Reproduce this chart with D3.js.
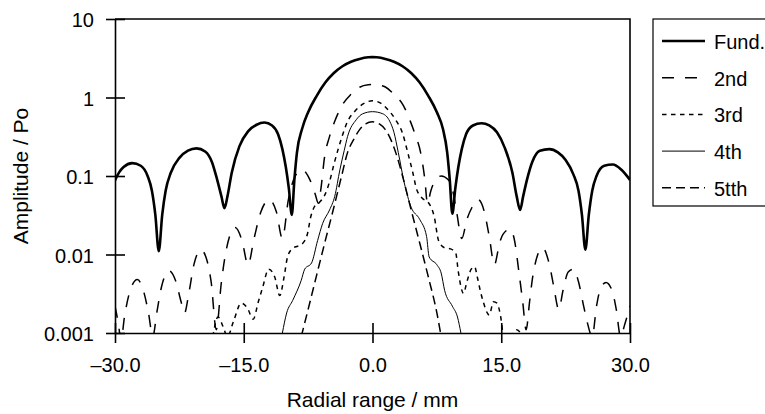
<!DOCTYPE html>
<html>
<head>
<meta charset="utf-8">
<script src="https://cdn.jsdelivr.net/npm/d3@7"></script>
<style>
	body { margin: 0; background: #fff; }
	text { font-family: "Liberation Sans", Arial, sans-serif; fill: #000; }
</style>
</head>
<body>
<svg id="chart" width="765" height="414"></svg>
<script>

// ---------- data (x in mm, amplitude / Po)
var seriesNames = ['Fund.', '2nd', '3rd', '4th', '5tth'];
var xTicks = [-30, -15, 0, 15, 30],
	xTickLabels = ['\u201330.0', '\u201315.0', '0.0', '15.0', '30.0'],
	yTicks = [0.001, 0.01, 0.1, 1, 10],
	yTickLabels = ['0.001', '0.01', '0.1', '1', '10'];

var fund = [
	[-30, 0.088], [-29.5, 0.112], [-29, 0.13], [-28, 0.146], [-27, 0.135], [-26.2, 0.1], [-25.7, 0.065],
	[-25.3, 0.032], [-24.9, 0.011], [-24.5, 0.032], [-24.1, 0.065], [-23.5, 0.11], [-22.5, 0.17],
	[-21.5, 0.21], [-20.5, 0.225], [-19.5, 0.205], [-18.7, 0.15], [-18.1, 0.09], [-17.6, 0.055],
	[-17.25, 0.039], [-16.9, 0.055], [-16.4, 0.11], [-15.5, 0.24], [-14.5, 0.37], [-13.5, 0.45],
	[-12.6, 0.48], [-11.7, 0.44], [-11.0, 0.34], [-10.5, 0.22], [-10.1, 0.13], [-9.75, 0.07],
	[-9.4, 0.032], [-9.1, 0.09], [-8.8, 0.2], [-8.2, 0.4], [-7.5, 0.65], [-6.5, 1.05], [-5.5, 1.55],
	[-4.5, 2.05], [-3.5, 2.5], [-2.5, 2.85], [-1.5, 3.1], [-0.5, 3.25], [0, 3.27], [0.5, 3.25],
	[1.5, 3.1], [2.5, 2.85], [3.5, 2.5], [4.5, 2.05], [5.5, 1.55], [6.5, 1.05], [7.5, 0.65],
	[8.2, 0.4], [8.7, 0.2], [9.0, 0.09], [9.3, 0.033], [9.65, 0.07], [10.0, 0.13], [10.4, 0.22],
	[10.9, 0.34], [11.7, 0.44], [12.7, 0.47], [13.6, 0.44], [14.5, 0.36], [15.4, 0.23], [16.3, 0.11],
	[16.8, 0.055], [17.2, 0.037], [17.55, 0.055], [18.0, 0.09], [18.6, 0.15], [19.5, 0.21],
	[20.6, 0.22], [21.6, 0.2], [22.5, 0.16], [23.4, 0.105], [24.0, 0.065], [24.4, 0.032],
	[24.8, 0.0115], [25.2, 0.032], [25.6, 0.065], [26.1, 0.1], [27.0, 0.135], [28.0, 0.14],
	[29.0, 0.12], [30, 0.089]
];

var second = [
	[-30, 0.0022], [-29.6, 0.0013], [-29.3, 0.0008], [-28.9, 0.0016], [-28.3, 0.0033], [-27.4, 0.0048],
	[-26.7, 0.0035], [-26.1, 0.0018], [-25.6, 0.0009], [-25.1, 0.0019], [-24.6, 0.0038], [-23.7, 0.0062],
	[-22.9, 0.0045], [-22.3, 0.0025], [-21.9, 0.0018], [-21.4, 0.0032], [-20.8, 0.0075], [-20.0, 0.0115],
	[-19.3, 0.0085], [-18.8, 0.0045], [-18.2, 0.0011], [-17.6, 0.0045], [-17.0, 0.012], [-16.0, 0.022],
	[-15.2, 0.015], [-14.5, 0.0074], [-13.8, 0.016], [-13.0, 0.035], [-12.0, 0.05], [-11.2, 0.035],
	[-10.5, 0.016], [-9.8, 0.05], [-9.0, 0.1], [-8.2, 0.12], [-7.3, 0.09], [-6.7, 0.06], [-6.3, 0.045],
	[-6.0, 0.07], [-5.6, 0.17], [-5.0, 0.32], [-4.3, 0.53], [-3.5, 0.81], [-2.5, 1.1], [-1.5, 1.35],
	[-0.5, 1.45], [0, 1.46], [0.5, 1.45], [1.5, 1.36], [2.5, 1.1], [3.6, 0.79], [4.4, 0.5], [5.0, 0.33],
	[5.6, 0.2], [6.1, 0.09], [6.4, 0.045], [6.8, 0.065], [7.3, 0.088], [8.0, 0.1], [8.8, 0.09],
	[9.3, 0.068], [9.8, 0.035], [10.4, 0.016], [11.0, 0.028], [11.6, 0.04], [12.3, 0.05], [13.0, 0.036],
	[13.6, 0.017], [14.2, 0.0074], [14.8, 0.014], [15.2, 0.018], [16.0, 0.021], [16.5, 0.016],
	[17.1, 0.0055], [17.5, 0.0025], [17.9, 0.0011], [18.3, 0.0025], [18.7, 0.0055], [19.8, 0.0122],
	[20.6, 0.0075], [21.1, 0.004], [21.7, 0.002], [22.2, 0.0035], [22.8, 0.006], [23.4, 0.0065],
	[24.0, 0.0045], [24.6, 0.0022], [25.0, 0.0014], [25.6, 0.0009], [26.1, 0.0022], [26.5, 0.0035],
	[27.2, 0.0044], [27.9, 0.0035], [28.4, 0.002], [28.9, 0.0009], [29.4, 0.0013], [30, 0.0022]
];

var third = [
	[-18.6, 0.0009], [-18.0, 0.0016], [-17.4, 0.0012], [-16.9, 0.0009], [-16.2, 0.0014], [-15.3, 0.0024],
	[-14.6, 0.0021], [-13.9, 0.0015], [-13.3, 0.0025], [-12.8, 0.0038], [-12.1, 0.0065], [-11.4, 0.0052],
	[-10.8, 0.003], [-10.3, 0.0052], [-9.9, 0.0093], [-9.3, 0.012], [-8.7, 0.0128], [-8.1, 0.014],
	[-7.6, 0.018], [-7.2, 0.03], [-6.8, 0.04], [-6.2, 0.046], [-5.6, 0.056], [-5.0, 0.085], [-4.5, 0.14],
	[-4.0, 0.22], [-3.5, 0.33], [-3.0, 0.47], [-2.0, 0.68], [-1.0, 0.84], [0, 0.91], [1.0, 0.84],
	[1.8, 0.7], [2.7, 0.52], [3.5, 0.35], [4.1, 0.2], [4.7, 0.11], [5.1, 0.07], [5.8, 0.052],
	[6.5, 0.046], [7.2, 0.03], [7.7, 0.015], [8.4, 0.0122], [9.1, 0.0118], [9.7, 0.0104], [10.0, 0.006],
	[10.6, 0.0032], [11.0, 0.0045], [11.5, 0.0065], [11.9, 0.007], [12.2, 0.0052], [12.6, 0.0033],
	[12.9, 0.0025], [13.6, 0.0017], [14.1, 0.0025], [14.5, 0.0024], [14.9, 0.0017], [15.3, 0.0009],
	[16.0, 0.0009], [16.8, 0.0011], [17.5, 0.0009]
];

var fourth = [
	[-10.5, 0.001], [-10.0, 0.0018], [-9.3, 0.0026], [-8.3, 0.0047], [-7.9, 0.0065], [-7.1, 0.0078],
	[-6.4, 0.015], [-5.8, 0.025], [-5.0, 0.037], [-4.4, 0.055], [-3.8, 0.12], [-3.3, 0.21], [-2.9, 0.32],
	[-1.9, 0.52], [-1.15, 0.62], [0, 0.66], [1.2, 0.62], [2.0, 0.5], [2.5, 0.36], [3.0, 0.2],
	[3.7, 0.082], [4.5, 0.04], [5.5, 0.028], [6.3, 0.017], [6.6, 0.0093], [7.5, 0.0074], [8.0, 0.0058],
	[8.4, 0.0035], [9.3, 0.0022], [9.9, 0.0016], [10.3, 0.001]
];

var fifth = [
	[-8.3, 0.0009], [-7.5, 0.002], [-6.5, 0.0055], [-5.5, 0.015], [-4.5, 0.04], [-3.6, 0.1], [-2.9, 0.2],
	[-2.2, 0.29], [-1.5, 0.39], [-0.8, 0.46], [0, 0.49], [0.8, 0.46], [1.5, 0.39], [2.2, 0.28],
	[2.7, 0.2], [3.5, 0.1], [4.5, 0.037], [5.5, 0.014], [6.5, 0.0052], [7.5, 0.0018], [8.0, 0.0009]
];

// ---------- layout
var plotLeft = 115, plotRight = 630, plotTop = 19, plotBottom = 333;

var svg = d3.select('#chart');

var x = d3.scaleLinear().domain([-30, 30]).range([plotLeft, plotRight]),
	y = d3.scaleLog().domain([0.001, 10]).range([plotBottom, plotTop]);

var styles = [
	{ width: 2.6, dash: null },
	{ width: 1.5, dash: '12,11' },
	{ width: 1.5, dash: '4.5,4.5' },
	{ width: 1, dash: null },
	{ width: 1.5, dash: '9,5' }
];
var allData = [fund, second, third, fourth, fifth];

//------------- clip
svg.append('clipPath').attr('id', 'plotClip')
	.append('rect')
	.attr('x', plotLeft).attr('y', plotTop)
	.attr('width', plotRight - plotLeft).attr('height', plotBottom - plotTop);

//------------- curves
var line = d3.line()
	.x(d => x(d[0]))
	.y(d => y(d[1]))
	.curve(d3.curveMonotoneX);

svg.append('g')
	.attr('clip-path', 'url(#plotClip)')
	.selectAll('path')
	.data(allData)
	.enter()
		.append('path')
		.attr('d', d => line(d))
		.attr('fill', 'none')
		.attr('stroke', '#000')
		.attr('stroke-width', (_, i) => styles[i].width)
		.attr('stroke-dasharray', (_, i) => styles[i].dash)
		.attr('stroke-linejoin', 'round');

//------------- frame (top and right)
svg.append('path')
	.attr('d', 'M' + plotLeft + ',' + plotTop + 'H' + plotRight + 'V' + plotBottom)
	.attr('fill', 'none')
	.attr('stroke', '#000')
	.attr('stroke-width', 1.6);

//------------- axes
var yAxis = d3.axisLeft(y)
	.tickValues(yTicks)
	.tickFormat((d, i) => yTickLabels[i])
	.tickSizeOuter(0);

var gy = svg.append('g')
	.attr('transform', 'translate(' + plotLeft + ',0)')
	.call(yAxis);

gy.selectAll('.tick line').attr('x1', -9).attr('x2', 10);
gy.selectAll('.tick text')
	.attr('x', -21)
	.attr('dy', '0.38em')
	.style('font-size', '20px');

var xAxis = d3.axisBottom(x)
	.tickValues(xTicks)
	.tickFormat((d, i) => xTickLabels[i])
	.tickSizeOuter(0);

var gx = svg.append('g')
	.attr('transform', 'translate(0,' + plotBottom + ')')
	.call(xAxis);

gx.selectAll('.tick line').attr('y1', -10).attr('y2', 10);
gx.selectAll('.tick text')
	.attr('y', 25)
	.attr('dy', '0.71em')
	.style('font-size', '20px');

svg.selectAll('.domain, .tick line')
	.attr('stroke', '#000')
	.attr('stroke-width', 1.6);

//------------- axis titles
svg.append('text')
	.attr('x', (plotLeft + plotRight) / 2)
	.attr('y', 407)
	.attr('text-anchor', 'middle')
	.style('font-size', '21px')
	.text('Radial range / mm');

svg.append('text')
	.attr('transform', 'translate(28,' + ((plotTop + plotBottom) / 2) + ') rotate(-90)')
	.attr('text-anchor', 'middle')
	.style('font-size', '21px')
	.text('Amplitude / Po');

//------------- legend
var legend = svg.append('g').attr('transform', 'translate(653,19)');

legend.append('rect')
	.attr('width', 150)
	.attr('height', 187)
	.attr('fill', '#fff')
	.attr('stroke', '#000')
	.attr('stroke-width', 1.2);

var item = legend.selectAll('g.item')
	.data(seriesNames)
	.enter()
		.append('g')
		.attr('class', 'item')
		.attr('transform', (_, i) => 'translate(0,' + (22 + 36.7 * i) + ')');

item.append('line')
	.attr('x1', 9).attr('x2', 52)
	.attr('stroke', '#000')
	.attr('stroke-width', (_, i) => styles[i].width)
	.attr('stroke-dasharray', (_, i) => styles[i].dash);

item.append('text')
	.attr('x', 61)
	.attr('y', 8)
	.style('font-size', '20px')
	.text(d => d);

</script>
</body>
</html>
